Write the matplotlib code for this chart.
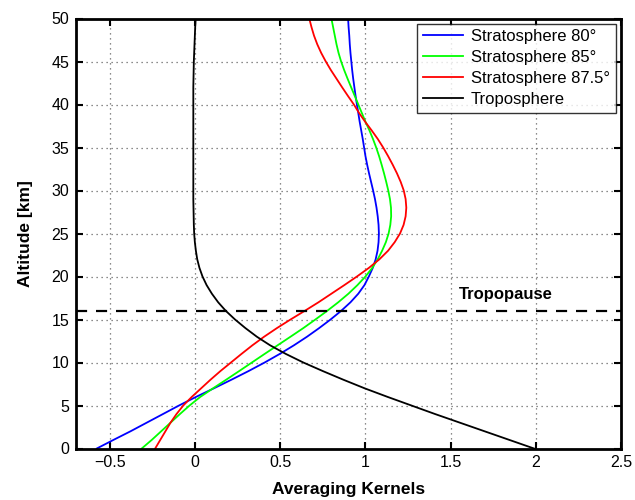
import numpy as np
import matplotlib
matplotlib.use('Agg')
import matplotlib.pyplot as plt

plt.rcParams['font.family'] = ['Liberation Sans', 'DejaVu Sans']

# altitude grid [km], 1 km steps
alt = list(range(0, 51))

# averaging kernels
strat80 = [-0.578, -0.48, -0.38, -0.285, -0.19, -0.095, 0.005, 0.11, 0.213, 0.313,
           0.408, 0.497, 0.58, 0.657, 0.728, 0.795, 0.857, 0.912, 0.958, 0.994,
           1.02, 1.043, 1.06, 1.071, 1.077, 1.079, 1.077, 1.072, 1.065, 1.056,
           1.045, 1.033, 1.021, 1.01, 1.0, 0.992, 0.984, 0.975, 0.966, 0.958,
           0.95, 0.942, 0.935, 0.928, 0.922, 0.917, 0.912, 0.908, 0.905, 0.901, 0.898]
strat85 = [-0.314, -0.255, -0.20, -0.145, -0.09, -0.033, 0.03, 0.105, 0.182, 0.258,
           0.333, 0.408, 0.484, 0.56, 0.635, 0.706, 0.775, 0.84, 0.90, 0.953,
           1.0, 1.04, 1.072, 1.098, 1.12, 1.136, 1.146, 1.151, 1.15, 1.144,
           1.134, 1.122, 1.109, 1.095, 1.08, 1.063, 1.044, 1.023, 1.0, 0.979,
           0.958, 0.937, 0.916, 0.895, 0.875, 0.857, 0.842, 0.83, 0.82, 0.81, 0.80]
strat875 = [-0.235, -0.205, -0.175, -0.145, -0.11, -0.07, -0.02, 0.035, 0.09, 0.148,
            0.21, 0.272, 0.336, 0.405, 0.48, 0.56, 0.643, 0.724, 0.80, 0.876,
            0.95, 1.02, 1.082, 1.133, 1.172, 1.203, 1.224, 1.236, 1.24, 1.236,
            1.225, 1.207, 1.185, 1.16, 1.133, 1.104, 1.072, 1.036, 0.998, 0.963,
            0.932, 0.897, 0.863, 0.83, 0.797, 0.767, 0.74, 0.717, 0.698, 0.683, 0.67]
tropo = [1.99, 1.845, 1.70, 1.555, 1.41, 1.27, 1.13, 0.995, 0.87, 0.75,
         0.635, 0.532, 0.44, 0.362, 0.295, 0.234, 0.18, 0.135, 0.098, 0.067,
         0.043, 0.025, 0.012, 0.004, -0.002, -0.006, -0.008, -0.009, -0.01, -0.011,
         -0.011, -0.011, -0.011, -0.011, -0.011, -0.011, -0.011, -0.011, -0.011, -0.011,
         -0.011, -0.011, -0.011, -0.01, -0.009, -0.008, -0.006, -0.004, -0.002, 0.0, 0.003]

labels = ['Stratosphere 80°', 'Stratosphere 85°', 'Stratosphere 87.5°', 'Troposphere']
colors = ['#0000ff', '#00ff00', '#ff0000', '#000000']
tropopause = 16

xticks = [-0.5, 0, 0.5, 1, 1.5, 2, 2.5]
xticklabels = ['\u22120.5', '0', '0.5', '1', '1.5', '2', '2.5']
yticks = [0, 5, 10, 15, 20, 25, 30, 35, 40, 45, 50]

fig = plt.figure(figsize=(6.35, 5.0), dpi=100)
ax = fig.add_axes([0.1197, 0.103, 0.858, 0.86])

for xs, lab, c in zip([strat80, strat85, strat875, tropo], labels, colors):
    ax.plot(xs, alt, color=c, lw=1.3, label=lab)

ax.axhline(tropopause, color='k', ls=(0, (5, 4)), lw=1.6)
ax.text(1.55, 17.9, 'Tropopause', fontsize=12, fontweight='bold', va='center', ha='left')

ax.set_xlim(-0.7, 2.5)
ax.set_ylim(0, 50)
ax.set_xticks(xticks)
ax.set_xticklabels(xticklabels)
ax.set_yticks(yticks)
ax.tick_params(direction='in', top=True, right=True, length=5, width=1.5, labelsize=11.5, pad=5)
for s in ax.spines.values():
    s.set_linewidth(2)
ax.grid(True, ls=(0, (1, 3)), color='0.4', lw=0.9)

ax.set_xlabel('Averaging Kernels', fontsize=12.5, fontweight='bold', labelpad=8)
ax.set_ylabel('Altitude [km]', fontsize=12.5, fontweight='bold', labelpad=13)

leg = ax.legend(loc='upper right', fontsize=12, frameon=True, fancybox=False, edgecolor='k',
                borderaxespad=0.3, handlelength=2.4, labelspacing=0.35, borderpad=0.35, handletextpad=0.5)
leg.get_frame().set_linewidth(1.0)

fig.savefig('out.png', dpi=100)
